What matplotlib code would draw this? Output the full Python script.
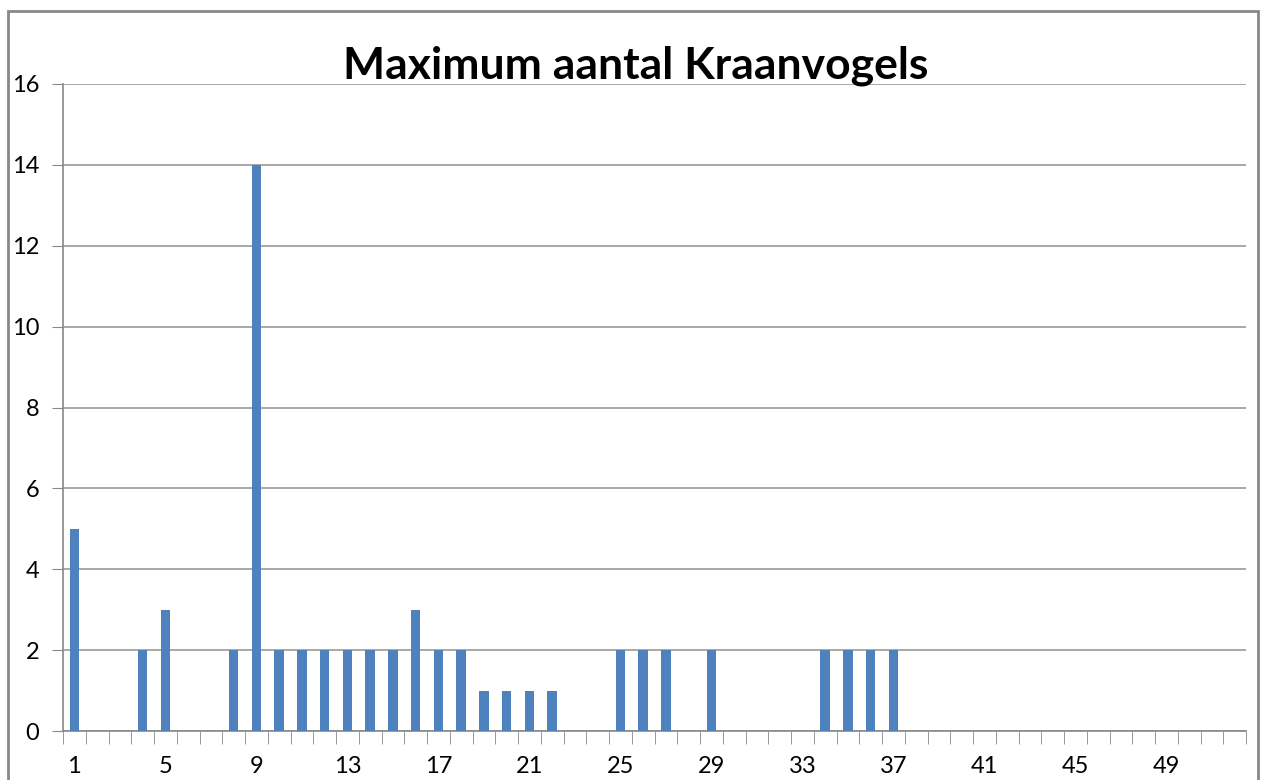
import numpy as np
import matplotlib.pyplot as plt
from matplotlib.patches import Rectangle

# gegevens: aantal dagen per categorie
categorieen = list(range(1, 53))
waarden = [5, 0, 0, 2, 3, 0, 0, 2, 14, 2,
           2, 2, 2, 2, 2, 3, 2, 2, 1, 1,
           1, 1, 0, 0, 2, 2, 2, 0, 2, 0,
           0, 0, 0, 2, 2, 2, 2, 0, 0, 0,
           0, 0, 0, 0, 0, 0, 0, 0, 0, 0,
           0, 0]
x_labels = list(range(1, 53, 4))
y_ticks = list(range(0, 17, 2))

plt.rcParams['font.family'] = ['Lato', 'DejaVu Sans']

fig = plt.figure(figsize=(12.66, 7.8), dpi=100)
ax = fig.add_axes([63 / 1266, 1 - 731 / 780, (1246 - 63) / 1266, (731 - 84) / 780])

ax.bar(categorieen, waarden, width=0.42, color='#4F81BD', zorder=3)

ax.set_xlim(0.5, 52.5)
ax.set_ylim(0, 16)
ax.set_yticks(y_ticks)
ax.set_xticks(x_labels)
ax.set_xticks(np.arange(0.5, 53, 1), minor=True)
ax.tick_params(axis='x', which='major', length=0, pad=18, labelsize=17)
ax.tick_params(axis='x', which='minor', length=9, direction='out', color='#888888')
ax.tick_params(axis='y', length=8, color='#888888', pad=9, labelsize=17)

ax.grid(axis='y', color='#999999', linewidth=1.2, zorder=0)
for s in ['top', 'right']:
    ax.spines[s].set_visible(False)
for s in ['left', 'bottom']:
    ax.spines[s].set_color('#888888')
    ax.spines[s].set_linewidth(1.2)

fig.text(636 / 1266, 1 - 66 / 780, 'Maximum aantal Kraanvogels', ha='center', va='center',
         fontsize=32, fontweight='bold')

# rand van het grafiekgebied
fig.patches.append(Rectangle((8 / 1266, -0.05), (1258 - 8) / 1266, 1.05 - 11 / 780,
                             transform=fig.transFigure, fill=False,
                             edgecolor='#888888', linewidth=2))

fig.savefig('out.png', dpi=100)
